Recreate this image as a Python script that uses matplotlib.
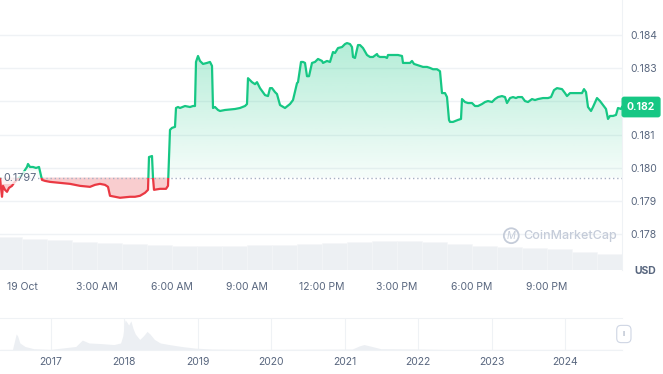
import numpy as np
import matplotlib
matplotlib.use("Agg")
import matplotlib.pyplot as plt
from matplotlib.patches import Rectangle
from matplotlib.path import Path
from matplotlib.colors import to_rgb

plt.rcParams['font.family'] = ['Inter', 'DejaVu Sans']

# price, 19 Oct (hours after midnight)
hours = [-0.88, -0.80, -0.76, -0.68, -0.60, -0.52, -0.40, -0.32, -0.20, -0.08,
         0.00, 0.12, 0.20, 0.24, 0.32, 0.44, 0.56, 0.68, 0.76, 0.80,
         0.92, 1.12, 1.52, 1.92, 2.32, 2.72, 2.92, 3.12, 3.32, 3.44,
         3.52, 3.72, 3.92, 4.32, 4.52, 4.72, 4.92, 5.04, 5.08, 5.20,
         5.24, 5.28, 5.52, 5.76, 5.84, 5.92, 6.00, 6.12, 6.16, 6.24,
         6.32, 6.52, 6.72, 6.84, 6.92, 6.96, 7.04, 7.12, 7.24, 7.40,
         7.52, 7.60, 7.64, 7.72, 7.84, 7.92, 8.12, 8.52, 8.72, 8.92,
         9.00, 9.04, 9.20, 9.32, 9.40, 9.52, 9.72, 9.84, 9.92, 10.00,
         10.12, 10.20, 10.32, 10.52, 10.72, 10.84, 11.00, 11.04, 11.16, 11.24,
         11.32, 11.40, 11.48, 11.60, 11.72, 11.84, 12.00, 12.04, 12.20, 12.32,
         12.44, 12.52, 12.64, 12.80, 12.92, 13.00, 13.12, 13.20, 13.24, 13.32,
         13.44, 13.52, 13.60, 13.64, 13.80, 13.92, 14.04, 14.20, 14.24, 14.32,
         14.52, 14.60, 14.64, 14.84, 15.04, 15.20, 15.24, 15.40, 15.52, 15.60,
         15.68, 15.80, 15.92, 16.04, 16.20, 16.32, 16.44, 16.60, 16.72, 16.80,
         16.92, 17.00, 17.08, 17.12, 17.24, 17.44, 17.56, 17.60, 17.72, 17.84,
         18.00, 18.12, 18.24, 18.40, 18.52, 18.64, 18.80, 18.92, 19.04, 19.20,
         19.32, 19.40, 19.52, 19.64, 19.76, 19.84, 20.00, 20.12, 20.24, 20.40,
         20.52, 20.64, 20.84, 21.04, 21.16, 21.28, 21.40, 21.60, 21.72, 21.80,
         21.92, 22.04, 22.24, 22.40, 22.48, 22.56, 22.64, 22.76, 22.84, 23.00,
         23.12, 23.24, 23.36, 23.44, 23.52, 23.64, 23.76, 23.84, 23.96, 24.00]
price = [0.17966, 0.17912, 0.17945, 0.17933, 0.17927, 0.17939, 0.17945, 0.17954, 0.17963, 0.17972,
         0.17978, 0.17993, 0.18002, 0.18011, 0.18002, 0.18002, 0.17999, 0.18002, 0.17975, 0.17963,
         0.17960, 0.17957, 0.17954, 0.17951, 0.17945, 0.17942, 0.17948, 0.17951, 0.17948, 0.17942,
         0.17915, 0.17912, 0.17909, 0.17912, 0.17912, 0.17915, 0.17924, 0.17933, 0.18032, 0.18035,
         0.17969, 0.17933, 0.17936, 0.17936, 0.17945, 0.18114, 0.18120, 0.18123, 0.18180, 0.18183,
         0.18180, 0.18186, 0.18183, 0.18186, 0.18186, 0.18319, 0.18337, 0.18322, 0.18313, 0.18316,
         0.18319, 0.18307, 0.18180, 0.18183, 0.18174, 0.18171, 0.18174, 0.18177, 0.18180, 0.18186,
         0.18192, 0.18270, 0.18258, 0.18252, 0.18258, 0.18240, 0.18219, 0.18216, 0.18240, 0.18240,
         0.18228, 0.18222, 0.18189, 0.18180, 0.18192, 0.18204, 0.18255, 0.18258, 0.18319, 0.18319,
         0.18316, 0.18276, 0.18276, 0.18316, 0.18319, 0.18328, 0.18322, 0.18316, 0.18322, 0.18319,
         0.18349, 0.18346, 0.18361, 0.18364, 0.18373, 0.18376, 0.18373, 0.18364, 0.18334, 0.18331,
         0.18370, 0.18370, 0.18364, 0.18361, 0.18340, 0.18334, 0.18334, 0.18343, 0.18337, 0.18334,
         0.18334, 0.18331, 0.18340, 0.18340, 0.18340, 0.18337, 0.18316, 0.18316, 0.18316, 0.18322,
         0.18313, 0.18310, 0.18307, 0.18304, 0.18304, 0.18301, 0.18297, 0.18297, 0.18291, 0.18225,
         0.18225, 0.18213, 0.18144, 0.18138, 0.18138, 0.18144, 0.18147, 0.18207, 0.18198, 0.18195,
         0.18195, 0.18186, 0.18186, 0.18192, 0.18198, 0.18201, 0.18198, 0.18207, 0.18213, 0.18216,
         0.18213, 0.18195, 0.18210, 0.18213, 0.18210, 0.18213, 0.18213, 0.18201, 0.18198, 0.18207,
         0.18204, 0.18207, 0.18210, 0.18210, 0.18213, 0.18234, 0.18240, 0.18237, 0.18225, 0.18216,
         0.18225, 0.18225, 0.18225, 0.18225, 0.18237, 0.18228, 0.18183, 0.18171, 0.18183, 0.18210,
         0.18201, 0.18189, 0.18177, 0.18147, 0.18156, 0.18156, 0.18159, 0.18180, 0.18177, 0.18183]
open_price = 0.1797

# hourly volume (M)
vol_hours = np.arange(-0.5, 24, 1.0)
volume = [33, 31, 30, 28, 27, 26, 25, 24, 24, 24, 25, 25, 26,
          27, 28, 29, 29, 28, 26, 24, 23, 22, 21, 18, 16]

time_ticks = [0, 3, 6, 9, 12, 15, 18, 21]
time_labels = ["19 Oct", "3:00 AM", "6:00 AM", "9:00 AM", "12:00 PM", "3:00 PM", "6:00 PM", "9:00 PM"]
price_ticks = [0.178, 0.179, 0.180, 0.181, 0.182, 0.183, 0.184]

# all-time navigator
nav_year = [2016.31, 2016.48, 2016.53, 2016.55, 2016.58, 2016.65, 2016.77, 2017.00, 2017.34, 2017.43,
            2017.52, 2017.69, 2017.86, 2017.95, 2017.98, 2018.01, 2018.03, 2018.06, 2018.09, 2018.12,
            2018.15, 2018.21, 2018.26, 2018.31, 2018.35, 2018.41, 2018.49, 2018.61, 2018.78, 2018.96,
            2019.19, 2019.76, 2021.10, 2021.20, 2021.26, 2021.37, 2021.49, 2022.06, 2022.35, 2024.77]
nav_val = [0.02, 0.02, 0.50, 0.44, 0.22, 0.11, 0.04, 0.02, 0.11, 0.31,
           0.22, 0.20, 0.17, 0.22, 0.44, 0.94, 0.89, 0.78, 0.91, 0.67,
           0.50, 0.33, 0.44, 0.58, 0.50, 0.33, 0.22, 0.17, 0.11, 0.06,
           0.03, 0.02, 0.03, 0.13, 0.17, 0.11, 0.04, 0.03, 0.02, 0.02]
years = list(range(2017, 2025))

green = "#16c784"
red = "#ea3943"
grey = "#58667e"
light = "#eff2f5"

t = np.array(hours)
p = np.array(price)

fig = plt.figure(figsize=(6.63, 3.74), dpi=100)
ax = fig.add_axes([0, 1 - 270 / 374, 622 / 663, 270 / 374])
axv = ax.twinx()
ax.set_zorder(axv.get_zorder() + 1)
ax.patch.set_visible(False)

# volume
axv.bar(vol_hours, volume, width=1.0, color="#edf0f3", edgecolor="#f5f6f8", linewidth=0.4)
axv.set_ylim(0, 270)
axv.set_yticks([])
for s in axv.spines.values():
    s.set_visible(False)

ax.set_xlim(-0.88, 24.0)
ax.set_ylim(0.17691, 0.18506)
ax.grid(axis="y", color=light, lw=1)
ax.set_axisbelow(True)

# fills
up = ax.fill_between(t, p, open_price, where=p >= open_price, interpolate=True, color="none")
clip = Path.make_compound_path(*up.get_paths())
grad = np.zeros((100, 1, 4))
grad[:, 0, :3] = to_rgb(green)
grad[:, 0, 3] = np.linspace(0.32, 0.04, 100)
im = ax.imshow(grad, extent=[t.min(), t.max(), open_price, p.max()], aspect="auto",
               origin="upper", zorder=1)
im.set_clip_path(clip, transform=ax.transData)
ax.fill_between(t, p, open_price, where=p <= open_price, interpolate=True,
                color=red, alpha=0.25, lw=0, zorder=1)

# line split at open price
above = Rectangle((-5, open_price), 40, 1, transform=ax.transData)
below = Rectangle((-5, open_price - 1), 40, 1, transform=ax.transData)
lg, = ax.plot(t, p, color=green, lw=1.6, zorder=3)
lg.set_clip_path(above)
lr, = ax.plot(t, p, color=red, lw=1.6, zorder=3)
lr.set_clip_path(below)

ax.axhline(open_price, color="#a6b0c3", ls=(0, (1, 2)), lw=1, zorder=2)
ax.text(-0.76, open_price, f"{open_price}", ha="left", va="center", fontsize=7.8, color=grey,
        zorder=5, bbox=dict(boxstyle="square,pad=0.1", fc="white", ec="none", alpha=0.75))

# axes styling
for name, s in ax.spines.items():
    s.set_visible(name == "right")
ax.spines["right"].set_color(light)
ax.yaxis.tick_right()
ax.set_yticks(price_ticks)
# the current-price badge sits on the 0.182 tick
ax.set_yticklabels(["" if abs(v - p[-1]) < 0.0005 else f"{v:.3f}" for v in price_ticks])
ax.tick_params(axis="y", length=0, pad=6, labelsize=7.5, labelcolor=grey)
ax.set_xticks(time_ticks)
ax.set_xticklabels(time_labels)
ax.tick_params(axis="x", length=0, pad=9, labelsize=7.5, labelcolor=grey)

ax.annotate(f"{p[-1]:.3f}", xy=(1.0, p[-1]), xycoords=("axes fraction", "data"),
            xytext=(3.5, 0), textcoords="offset points", ha="left", va="center",
            fontsize=7.5, fontweight="bold", color="white", zorder=10, annotation_clip=False,
            bbox=dict(boxstyle="round,pad=0.45,rounding_size=0.2", fc=green, ec=green))

fig.text(645 / 663, 1 - 271 / 374, "USD", ha="center", va="center", fontsize=7.5,
         fontweight="bold", color=grey)

# watermark
wm = "#c5ccd9"
ax.text(0.822, 0.127, "M", transform=ax.transAxes, ha="center", va="center", fontsize=7,
        fontstyle="italic", color=wm, bbox=dict(boxstyle="circle,pad=0.25", fc="none", ec=wm, lw=1.3))
ax.text(0.842, 0.127, "CoinMarketCap", transform=ax.transAxes, ha="left", va="center",
        fontsize=9, fontweight="medium", color=wm)

# navigator
axn = fig.add_axes([0, 1 - 350 / 374, 622 / 663, 32 / 374])
axn.fill_between(nav_year, nav_val, 0, color="#eceff3", lw=0)
axn.set_xlim(2016.31, 2024.77)
axn.set_ylim(0, 1.0)
axn.set_xticks(years)
axn.set_xticklabels([str(y) for y in years])
axn.set_yticks([])
axn.grid(axis="x", color=light, lw=0.8)
axn.set_axisbelow(True)
axn.tick_params(axis="x", length=0, pad=5, labelsize=7.5, labelcolor=grey)
for name, s in axn.spines.items():
    s.set_visible(name in ("top", "bottom"))
    s.set_color(light)
axn.text(1.003, 0.5, "ll", transform=axn.transAxes, ha="center", va="center", fontsize=4.5,
         color="#a6b0c3", bbox=dict(boxstyle="round,pad=0.9,rounding_size=0.7", fc="white",
                                    ec="#cfd6e4", lw=0.8))

fig.savefig("out.png", dpi=100)
